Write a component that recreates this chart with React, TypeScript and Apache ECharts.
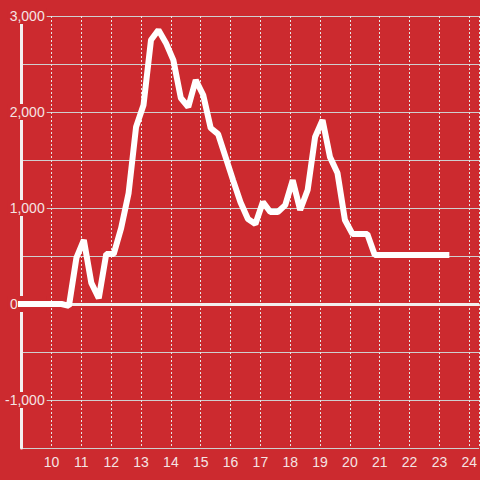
import React, { useEffect, useRef } from "react";
import * as echarts from "echarts";

const times: string[] = [
  "08:50", "09:05", "09:20", "09:35", "09:50", "10:05", "10:20", "10:35", "10:50", "11:05",
  "11:20", "11:35", "11:50", "12:05", "12:20", "12:35", "12:50", "13:05", "13:20", "13:35",
  "13:50", "14:05", "14:20", "14:35", "14:50", "15:05", "15:20", "15:35", "15:50", "16:05",
  "16:20", "16:35", "16:50", "17:05", "17:20", "17:35", "17:50", "18:05", "18:20", "18:35",
  "18:50", "19:05", "19:20", "19:35", "19:50", "20:05", "20:20", "20:35", "20:50", "21:05",
  "21:20", "21:35", "21:50", "22:05", "22:20", "22:35", "22:50", "23:05", "23:20",
];

const values: number[] = [
  0, 0, 0, 0, 0, 0, 0, -20, 480, 667,
  220, 60, 520, 520, 790, 1156, 1844, 2073, 2750, 2854,
  2720, 2540, 2146, 2052, 2333, 2177, 1833, 1770, 1530, 1290,
  1060, 885, 833, 1062, 958, 958, 1030, 1290, 979, 1187,
  1740, 1917, 1530, 1365, 875, 730, 730, 730, 510, 510,
  510, 510, 510, 510, 510, 510, 510, 510, 510,
];

const xMin = 9;
const xMax = 24.333;
const yMin = -1500;
const yMax = 3000;

const BG = "#cc2a2f";
const TEXT = "#f5e4e4";

function toHours(t: string): number {
  const [h, m] = t.split(":").map(Number);
  return h + m / 60;
}

export default function App() {
  const ref = useRef<HTMLDivElement>(null);
  useEffect(() => {
    if (!ref.current) return;
    const chart = echarts.init(ref.current, null, { renderer: "svg" });
    const data = times.map((t, i) => [toHours(t), values[i]]);
    chart.setOption({
      animation: false,
      backgroundColor: BG,
      grid: { left: 20, right: 0, top: 16, bottom: 32 },
      xAxis: {
        type: "value",
        min: xMin,
        max: xMax,
        interval: 1,
        axisLine: { show: true, lineStyle: { color: "#cccccc", width: 1 } },
        axisTick: { show: false },
        axisLabel: {
          color: TEXT,
          fontSize: 14,
          fontFamily: "Liberation Sans, Arial, sans-serif",
          margin: 7,
          showMinLabel: false,
          showMaxLabel: false,
          formatter: (v: number) => (Number.isInteger(v) && v > xMin ? String(v) : ""),
        },
        splitLine: { show: true, lineStyle: { color: "#e6e6e6", width: 1, type: [2, 2] } },
      },
      yAxis: {
        type: "value",
        min: yMin,
        max: yMax,
        interval: 500,
        axisLine: { show: true, lineStyle: { color: "#f4f0f0", width: 3 } },
        axisTick: { show: false },
        axisLabel: {
          color: TEXT,
          fontSize: 14,
          fontFamily: "Liberation Sans, Arial, sans-serif",
          margin: -25,
          align: "right",
          backgroundColor: BG,
          padding: [1, 2, 1, 2],
          formatter: (v: number) => {
            if (v % 1000 !== 0) return "";
            if (v === 0) return "{z|0}";
            return v.toLocaleString("en-US");
          },
          rich: {
            z: { color: TEXT, fontSize: 14, fontFamily: "Liberation Sans, Arial, sans-serif", padding: [0, 27, 0, 0] },
          },
        },
        splitLine: { show: true, lineStyle: { color: "#cfcfcf", width: 1 } },
      },
      series: [
        {
          type: "line",
          data,
          showSymbol: false,
          symbol: "none",
          lineStyle: { color: "#ffffff", width: 6 },
          z: 5,
          markLine: {
            silent: true,
            symbol: "none",
            label: { show: false },
            z: 3,
            lineStyle: { color: "#f2eeee", width: 3, type: "solid" },
            data: [{ yAxis: 0 }],
          },
        },
      ],
    });
    return () => chart.dispose();
  }, []);
  return <div ref={ref} style={{ width: 480, height: 480, position: "absolute", left: 0, top: 0 }} />;
}
